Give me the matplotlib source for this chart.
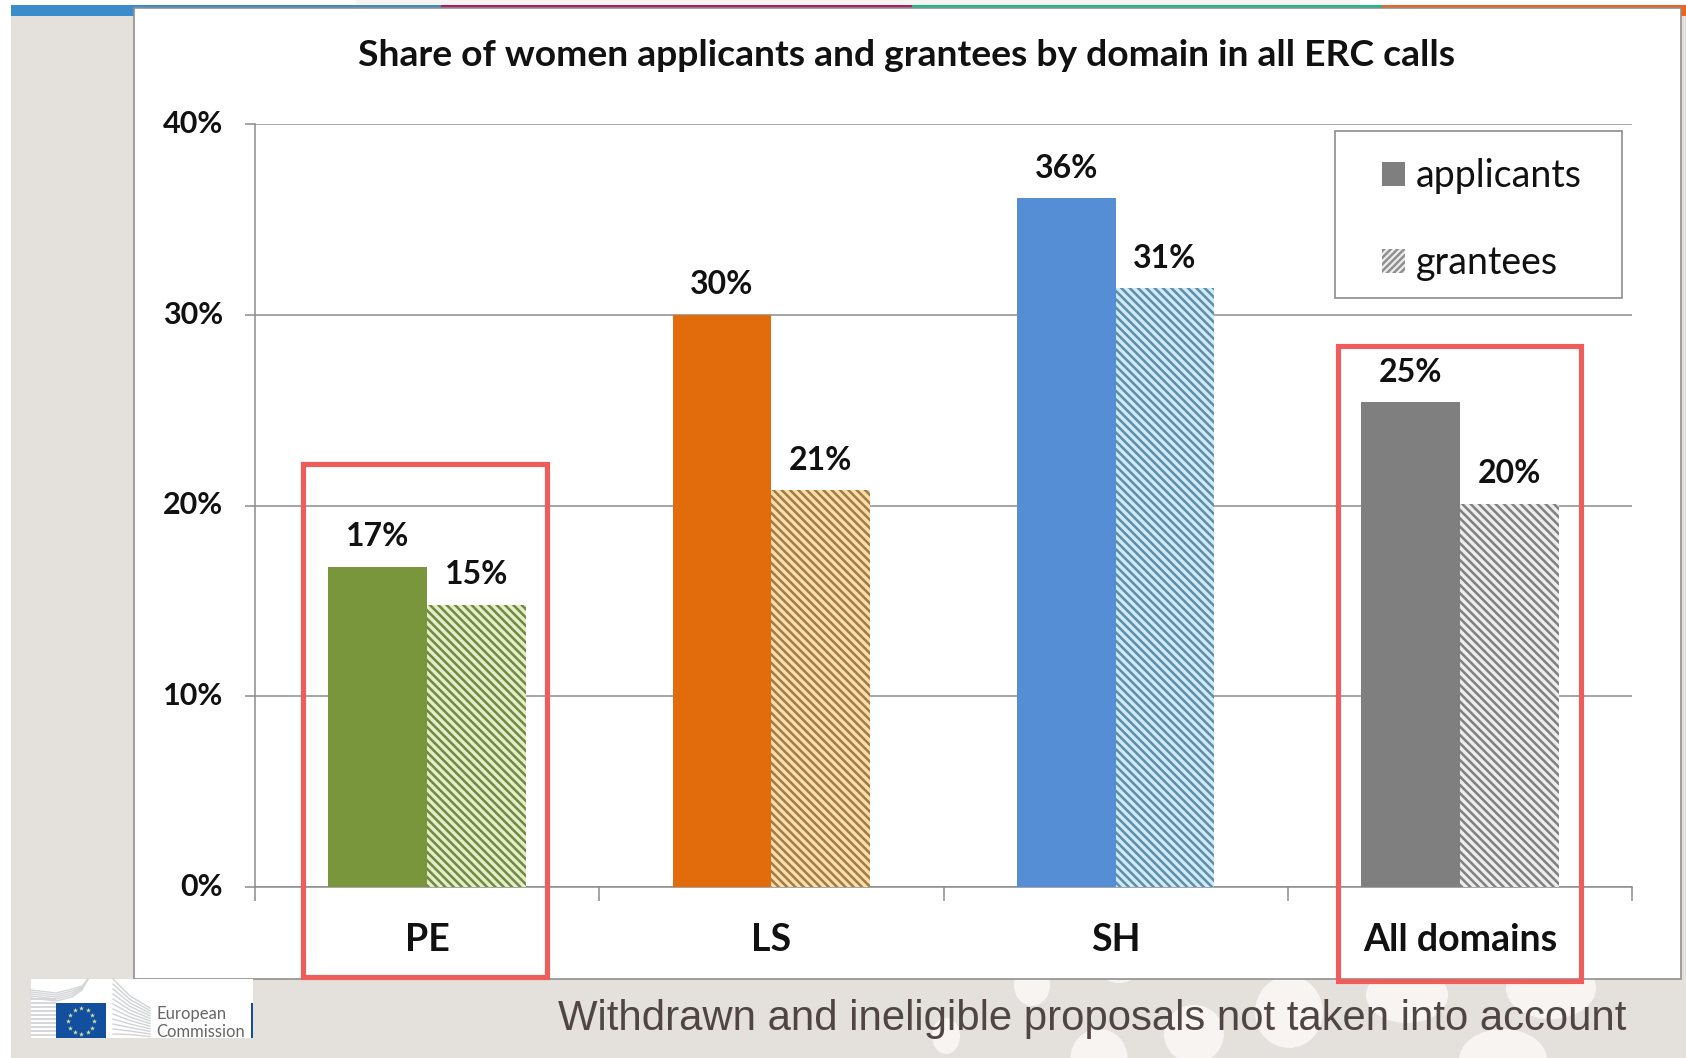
"""
Share of women applicants and grantees by ERC domain (slide reproduction)
"""

import numpy as np
import matplotlib
matplotlib.use('Agg')
import matplotlib.pyplot as plt
from matplotlib.patches import Rectangle, Ellipse, Patch

W, H = 1686, 1058

plt.rcParams['font.family'] = ['Lato', 'DejaVu Sans']
plt.rcParams['hatch.linewidth'] = 1.8

# Data
domains = ['PE', 'LS', 'SH', 'All domains']
applicants = [16.8, 30.0, 36.1, 25.4]
grantees = [14.8, 20.8, 31.4, 20.1]
y_ticks = [0, 10, 20, 30, 40]

solid_colors = ['#7A963C', '#E26C0C', '#558ED5', '#7F7F7F']
hatch_colors = ['#6E8A40', '#A07A48', '#5E8DAA', '#808080']
hatch_faces = ['#E4EDC8', '#FBDDA8', '#CFEAF6', '#EDEDED']

BG = '#E4E0DC'
PALE = '#F7F4F2'
GRID = '#8C8C8C'
RED = '#EF5D5A'

fig = plt.figure(figsize=(W / 100, H / 100), dpi=100, facecolor='white')

# Slide background, in pixel coordinates
bg = fig.add_axes([0, 0, 1, 1], zorder=0)
bg.set_xlim(0, W)
bg.set_ylim(H, 0)
bg.axis('off')

bg.add_patch(Rectangle((11, 5), W - 11, H - 5, facecolor=BG, edgecolor='none'))
bg.add_patch(Rectangle((356, 0), 1004, 5, facecolor=PALE, edgecolor='none'))

blobs = [(1032, 985, 36, 42), (1119, 975, 30, 16), (1289, 1012, 68, 72), (1407, 995, 82, 56),
         (1551, 988, 90, 62), (946, 1036, 28, 36), (1099, 1058, 57, 58), (1194, 1034, 60, 58),
         (1503, 1060, 88, 62)]
for cx, cy, bw, bh in blobs:
    bg.add_patch(Ellipse((cx, cy), bw, bh, facecolor=PALE, edgecolor='none'))

# Coloured strip along the top
bg.add_patch(Rectangle((11, 5), 123, 11, facecolor='#3A8CCB', edgecolor='none'))
bg.add_patch(Rectangle((134, 5), 307, 3, facecolor='#3A8CCB', edgecolor='none'))
bg.add_patch(Rectangle((441, 5), 471, 3, facecolor='#A8205F', edgecolor='none'))
bg.add_patch(Rectangle((912, 5), 470, 3, facecolor='#12BF8E', edgecolor='none'))
bg.add_patch(Rectangle((1382, 5), 304, 3, facecolor='#F0641E', edgecolor='none'))
bg.add_patch(Rectangle((1681, 5), 5, 11, facecolor='#F0641E', edgecolor='none'))

# White panel holding the chart
bg.add_patch(Rectangle((134, 8), 1547, 971, facecolor='white', edgecolor='#909090', linewidth=1.2))

# European Commission logo
bg.add_patch(Rectangle((31, 979), 222, 59, facecolor='white', edgecolor='none'))
for y0 in np.arange(999, 1038, 4):
    bg.plot([31, 56], [y0, y0], color='#CFD1D3', lw=1.2, solid_capstyle='butt')
for k in range(5):
    bg.plot([31, 56, 72, 82, 88], [998 - k * 2, 1001 - k * 2, 997 - k * 2, 990 - k, 979],
            color='#D4D6D8', lw=1.0)
for k in range(12):
    bg.plot([113, 130, 150], [979 + k * 5, 996 + k * 3.5, 1008 + k * 2.6],
            color='#D0D2D4', lw=1.0)
bg.add_patch(Rectangle((56, 1003), 50, 35, facecolor='#134F9F', edgecolor='none'))
angles = np.deg2rad(np.arange(0, 360, 30))
bg.scatter(81 + 13 * np.cos(angles), 1021 + 13 * np.sin(angles), s=14, marker='*',
           color='#D8E89A', linewidths=0)
bg.add_patch(Rectangle((251, 1003), 2, 35, facecolor='#134F9F', edgecolor='none'))
bg.text(156, 1014, 'European', fontsize=12, color='#666666', va='center', ha='left')
bg.text(156, 1032, 'Commission', fontsize=12, color='#666666', va='center', ha='left')

bg.text(1626, 1019, 'Withdrawn and ineligible proposals not taken into account',
        family='Liberation Sans', fontsize=30.15, color='#4F4644', ha='right', va='center')
bg.text(907, 55, 'Share of women applicants and grantees by domain in all ERC calls',
        fontsize=26.8, fontweight='bold', color='#111111', ha='center', va='center')

# Chart
ax = fig.add_axes([255 / W, 1 - 887 / H, (1632 - 255) / W, (887 - 124) / H], zorder=1)
ax.patch.set_alpha(0)

x = np.arange(len(domains))
bar_w = 0.2865

for i in range(len(domains)):
    ax.bar(x[i] - bar_w / 2, applicants[i], bar_w, color=solid_colors[i], linewidth=0, zorder=3)
    ax.bar(x[i] + bar_w / 2, grantees[i], bar_w, facecolor=hatch_faces[i],
           edgecolor=hatch_colors[i], hatch='\\\\\\\\', linewidth=0, zorder=3)
    ax.annotate(f'{applicants[i]:.0f}%', (x[i] - bar_w / 2, applicants[i]), xytext=(0, 30),
                textcoords='offset pixels', ha='center', va='center',
                fontsize=23, fontweight='bold', color='#111111')
    ax.annotate(f'{grantees[i]:.0f}%', (x[i] + bar_w / 2, grantees[i]), xytext=(0, 30),
                textcoords='offset pixels', ha='center', va='center',
                fontsize=23, fontweight='bold', color='#111111')

ax.set_xlim(-0.5, len(domains) - 0.5)
ax.set_ylim(0, 40)
ax.set_yticks(y_ticks)
ax.set_yticklabels([f'{v}%' for v in y_ticks], fontsize=22, fontweight='bold', color='#111111')
ax.set_xticks(x)
ax.set_xticklabels(domains, fontsize=27, fontweight='bold', color='#111111')
ax.set_xticks(np.arange(len(domains) + 1) - 0.5, minor=True)
ax.tick_params(axis='x', which='major', length=0, pad=26)
ax.tick_params(axis='x', which='minor', length=10, width=1.1, color=GRID)
ax.tick_params(axis='y', length=7, width=1.1, color=GRID, pad=16)
for lab in ax.get_yticklabels():
    lab.set_verticalalignment('center')

ax.grid(True, axis='y', color=GRID, linewidth=1.1, zorder=1)
ax.set_axisbelow(True)
for side in ['top', 'right']:
    ax.spines[side].set_visible(False)
for side in ['left', 'bottom']:
    ax.spines[side].set_color(GRID)
    ax.spines[side].set_linewidth(1.1)

# Red boxes and legend frame sit on top of the chart
top = fig.add_axes([0, 0, 1, 1], zorder=2)
top.set_xlim(0, W)
top.set_ylim(H, 0)
top.axis('off')
top.add_patch(Rectangle((303, 464), 244, 513, facecolor='none', edgecolor=RED, linewidth=3.7))
top.add_patch(Rectangle((1338, 346), 243, 635, facecolor='none', edgecolor=RED, linewidth=3.7))
top.add_patch(Rectangle((1335, 131), 287, 167, facecolor='white', edgecolor=GRID, linewidth=1.2))

handles = [Patch(facecolor='#7F7F7F', edgecolor='none', label='applicants'),
           Patch(facecolor='#EDEDED', edgecolor='#909090', hatch='/////', linewidth=0, label='grantees')]
leg = top.legend(handles=handles, loc='upper left', bbox_to_anchor=(1382 / W, 1 - 158 / H),
                 frameon=False, fontsize=27, handlelength=0.6, handleheight=0.6,
                 handletextpad=0.3, labelspacing=1.36, borderpad=0, borderaxespad=0)
for t in leg.get_texts():
    t.set_color('#111111')

fig.savefig('out.png', dpi=100, facecolor='white')
plt.close(fig)
